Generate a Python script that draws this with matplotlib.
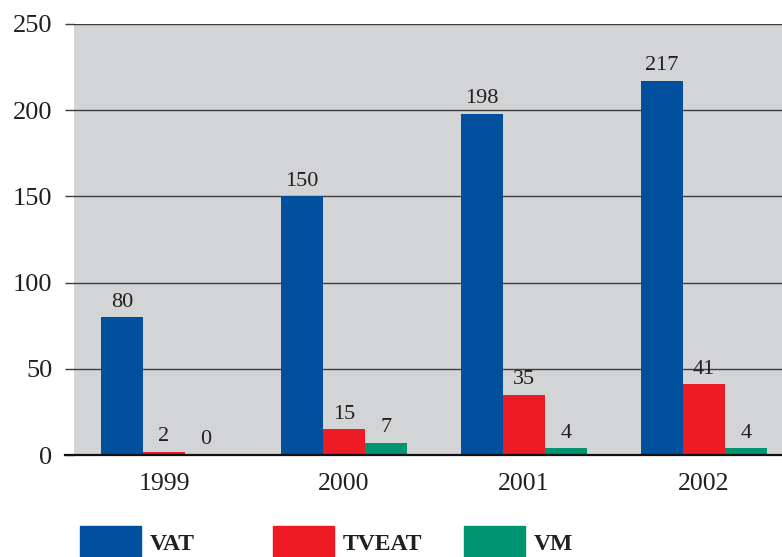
import matplotlib.pyplot as plt
from matplotlib.patches import Rectangle
import numpy as np

years = ["1999", "2000", "2001", "2002"]
vat = [80, 150, 198, 217]
tveat = [2, 15, 35, 41]
vm = [0, 7, 4, 4]

series = [("VAT", vat, "#00509e"), ("TVEAT", tveat, "#ed1c24"), ("VM", vm, "#009471")]

plt.rcParams["font.family"] = ["Liberation Serif", "DejaVu Serif"]
text_col = "#231f20"

fig = plt.figure(figsize=(7.82, 5.57), dpi=100)
ax = fig.add_axes([74 / 782, 102 / 557, 708 / 782, 431 / 557])
ax.set_facecolor("#d3d4d6")

x = np.arange(len(years))
w = 42 / 180
for i, (name, vals, col) in enumerate(series):
    bars = ax.bar(x + (i - 1) * w, vals, w, color=col, zorder=3)
    ax.bar_label(bars, padding=4, fontsize=16, color=text_col)

ax.set_xlim(-0.5, 3.433)
ax.set_ylim(0, 250)
ax.set_yticks([0, 50, 100, 150, 200, 250])
ax.yaxis.grid(True, color="#3c3c3c", linewidth=1.0, zorder=1)
ax.set_axisbelow(True)
ax.tick_params(axis="y", length=6.5, width=1.0, color="#3c3c3c", pad=9,
               labelsize=19, labelcolor=text_col)
ax.set_xticks(x)
ax.set_xticklabels(years)
ax.tick_params(axis="x", length=0, pad=13, labelsize=18.5, labelcolor=text_col)
for s in ax.spines.values():
    s.set_visible(False)
ax.axhline(0, xmin=-9 / 708, xmax=1, color="#111111", linewidth=1.6, clip_on=False, zorder=4)

# legend along the bottom
legend_x = [80, 273, 464]
for (name, vals, col), lx in zip(series, legend_x):
    fig.add_artist(Rectangle((lx / 782, 0), 61 / 782, 31 / 557, color=col,
                             transform=fig.transFigure))
    fig.text((lx + 70) / 782, 12 / 557, name, fontsize=17, fontweight="bold",
             color=text_col, va="center", ha="left")

fig.savefig("out.png", dpi=100)
